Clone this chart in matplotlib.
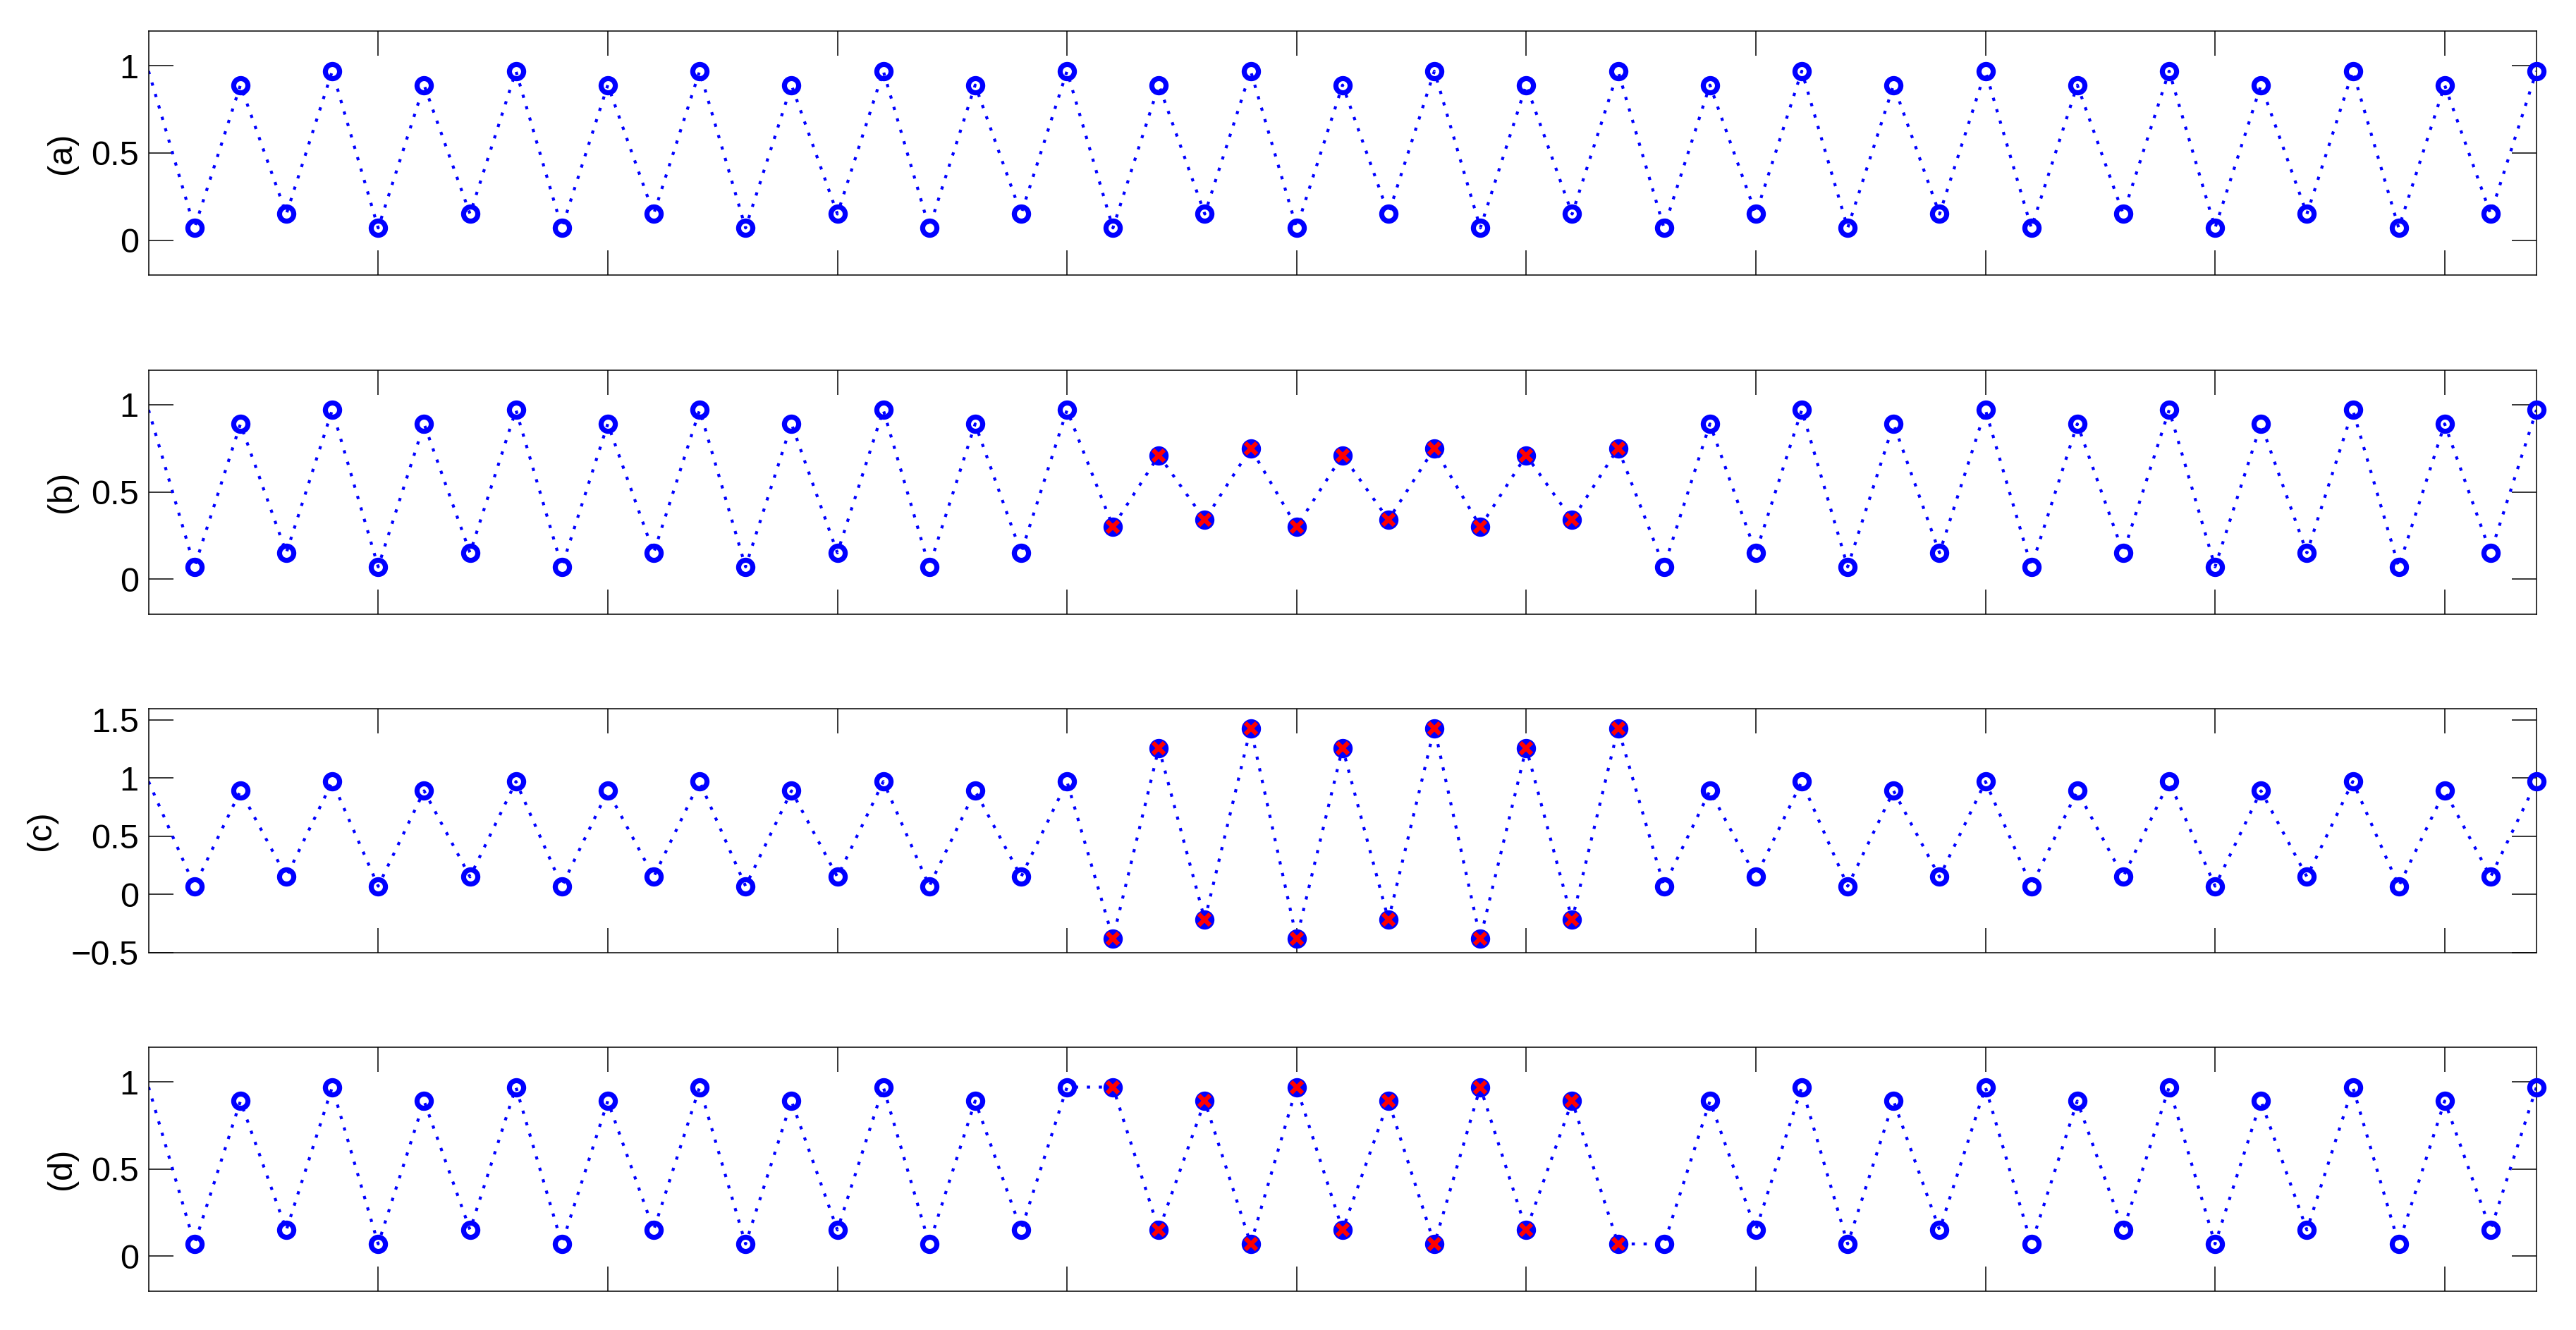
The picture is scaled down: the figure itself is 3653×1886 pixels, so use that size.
import matplotlib
matplotlib.use("Agg")
import matplotlib.pyplot as plt
import numpy as np

plt.rcParams['font.family'] = ['Liberation Sans', 'DejaVu Sans']

# sample index 0..52
n = np.arange(53)

sig_a = [0.97, 0.07, 0.89, 0.15, 0.97, 0.07, 0.89, 0.15, 0.97, 0.07,
         0.89, 0.15, 0.97, 0.07, 0.89, 0.15, 0.97, 0.07, 0.89, 0.15,
         0.97, 0.07, 0.89, 0.15, 0.97, 0.07, 0.89, 0.15, 0.97, 0.07,
         0.89, 0.15, 0.97, 0.07, 0.89, 0.15, 0.97, 0.07, 0.89, 0.15,
         0.97, 0.07, 0.89, 0.15, 0.97, 0.07, 0.89, 0.15, 0.97, 0.07,
         0.89, 0.15, 0.97]

sig_b = [0.97, 0.07, 0.89, 0.15, 0.97, 0.07, 0.89, 0.15, 0.97, 0.07,
         0.89, 0.15, 0.97, 0.07, 0.89, 0.15, 0.97, 0.07, 0.89, 0.15,
         0.97, 0.30, 0.71, 0.34, 0.75, 0.30, 0.71, 0.34, 0.75, 0.30,
         0.71, 0.34, 0.75, 0.07, 0.89, 0.15, 0.97, 0.07, 0.89, 0.15,
         0.97, 0.07, 0.89, 0.15, 0.97, 0.07, 0.89, 0.15, 0.97, 0.07,
         0.89, 0.15, 0.97]

sig_c = [0.97, 0.07, 0.89, 0.15, 0.97, 0.07, 0.89, 0.15, 0.97, 0.07,
         0.89, 0.15, 0.97, 0.07, 0.89, 0.15, 0.97, 0.07, 0.89, 0.15,
         0.97, -0.38, 1.26, -0.22, 1.43, -0.38, 1.26, -0.22, 1.43, -0.38,
         1.26, -0.22, 1.43, 0.07, 0.89, 0.15, 0.97, 0.07, 0.89, 0.15,
         0.97, 0.07, 0.89, 0.15, 0.97, 0.07, 0.89, 0.15, 0.97, 0.07,
         0.89, 0.15, 0.97]

sig_d = [0.97, 0.07, 0.89, 0.15, 0.97, 0.07, 0.89, 0.15, 0.97, 0.07,
         0.89, 0.15, 0.97, 0.07, 0.89, 0.15, 0.97, 0.07, 0.89, 0.15,
         0.97, 0.97, 0.15, 0.89, 0.07, 0.97, 0.15, 0.89, 0.07, 0.97,
         0.15, 0.89, 0.07, 0.07, 0.89, 0.15, 0.97, 0.07, 0.89, 0.15,
         0.97, 0.07, 0.89, 0.15, 0.97, 0.07, 0.89, 0.15, 0.97, 0.07,
         0.89, 0.15, 0.97]

panel_labels = ['(a)', '(b)', '(c)', '(d)']
signals = [sig_a, sig_b, sig_c, sig_d]
modified = [False, True, True, True]     # panels with a marked block
mod_start, mod_end = 21, 32             # indices of marked samples
ylims = [(-0.2, 1.2), (-0.2, 1.2), (-0.5, 1.6), (-0.2, 1.2)]
yticks = [[0, 0.5, 1], [0, 0.5, 1], [-0.5, 0, 0.5, 1, 1.5], [0, 0.5, 1]]
ytick_labels = [['0', '0.5', '1'], ['0', '0.5', '1'],
                ['\u22120.5', '0', '0.5', '1', '1.5'], ['0', '0.5', '1']]
xticks = [5, 10, 15, 20, 25, 30, 35, 40, 45, 50]

W, H = 3653, 1886
fig = plt.figure(figsize=(W / 100, H / 100), dpi=100)

left = 210.7 / W
width = (3597 - 210.7) / W
tops = [44, 524.5, 1004.5, 1484.7]
hgt = 346

blue = (0, 0, 1)
red = (1, 0, 0)
dots = (0, (1.1, 2.95))

for i in range(4):
    bottom = 1 - (tops[i] + hgt) / H
    ax = fig.add_axes([left, bottom, width, hgt / H])
    y = np.array(signals[i], dtype=float)
    ax.plot(n, y, color=blue, lw=3, linestyle=dots, dash_capstyle='butt')
    if modified[i]:
        mask = np.zeros(53, bool)
        mask[mod_start:mod_end + 1] = True
        plain = (~mask) & (n >= 1)
        ax.plot(n[plain], y[plain], 'o', ms=14.5, mew=5.2, mec=blue, mfc='none',
                clip_on=False, zorder=4)
        ax.plot(n[mask], y[mask], 'o', ms=14.5, mew=5.2, mec=blue, mfc=blue,
                clip_on=False, zorder=4)
        ax.plot(n[mask], y[mask], 'x', ms=11, mew=4.5, mec=red,
                clip_on=False, zorder=5)
    else:
        ax.plot(n[1:], y[1:], 'o', ms=14.5, mew=5.2, mec=blue, mfc='none',
                clip_on=False, zorder=4)

    ax.set_xlim(0, 52)
    ax.set_ylim(*ylims[i])
    ax.set_xticks(xticks)
    ax.set_xticklabels([])
    ax.set_yticks(yticks[i])
    ax.set_yticklabels(ytick_labels[i])
    ax.tick_params(axis='both', direction='in', length=25, width=1.1,
                   top=True, right=True, labelsize=35, pad=10)
    for sp in ax.spines.values():
        sp.set_linewidth(1.1)
    ax.set_ylabel(panel_labels[i], fontsize=35, labelpad=14)

fig.savefig('out.png', dpi=100)
